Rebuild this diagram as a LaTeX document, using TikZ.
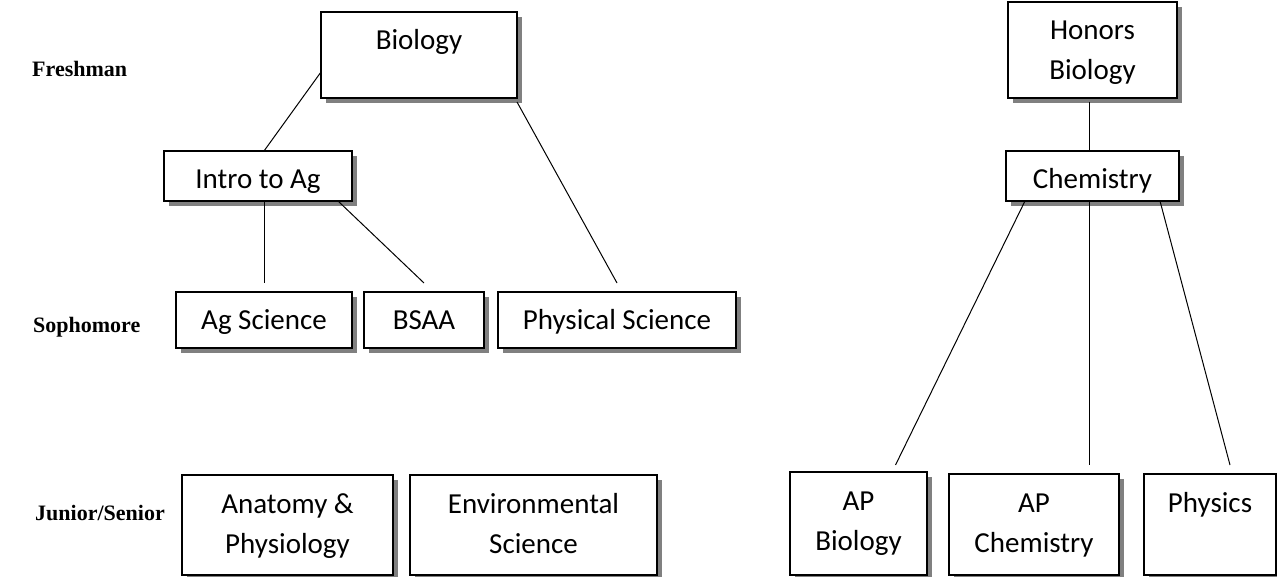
\documentclass[tikz,border=0pt]{standalone}
\usepackage{fontspec}
\setmainfont{Carlito}
\newfontfamily\labelfont{Liberation Serif}
\usetikzlibrary{shadows,calc}
\newcommand\cbox[3]{\parbox[t][#2pt][t]{#1pt}{\centering\rule{0pt}{38pt}#3}}
\tikzset{
  course/.style={draw=black, line width=1.6pt, fill=white, inner sep=0pt, outer sep=0pt,
    anchor=north west, font=\fontsize{29}{40}\selectfont,
    drop shadow={shadow xshift=5pt, shadow yshift=-5pt, fill=black!50, opacity=1}},
  yearlabel/.style={anchor=base west, inner sep=0pt, font=\labelfont\bfseries\fontsize{22}{26}\selectfont},
  link/.style={draw=black, line width=1pt}
}
\begin{document}
\begin{tikzpicture}[x=1pt,y=-1pt]
\useasboundingbox[fill=white] (0,0) rectangle (1277,577);
% year labels
\node[yearlabel] (fresh) at (32,77) {Freshman};
\node[yearlabel] (soph) at (33,333) {Sophomore};
\node[yearlabel] (junior) at (35,520) {Junior/Senior};
% left tree
\node[course] (bio) at (321,12) {\cbox{196}{86}{Biology}};
\node[course] (intro) at (164,151) {\cbox{188}{50}{Intro to Ag}};
\node[course] (agsci) at (176,292) {\cbox{176}{56}{Ag Science}};
\node[course] (bsaa) at (364,292) {\cbox{120}{56}{BSAA}};
\node[course] (phys) at (498,292) {\cbox{238}{56}{Physical Science}};
\node[course] (anat) at (182,475) {\cbox{211}{100}{Anatomy \&\\Physiology}};
\node[course] (env) at (410,475) {\cbox{247}{100}{Environmental\\Science}};
% right tree
\node[course] (hbio) at (1008,2) {\cbox{169}{96}{Honors\\Biology}};
\node[course] (chem) at (1006,151) {\cbox{173}{50}{Chemistry}};
\node[course] (apbio) at (790,472) {\cbox{137}{103}{AP\\Biology}};
\node[course] (apchem) at (949,474) {\cbox{170}{101}{AP\\Chemistry}};
\node[course] (physics) at (1144,474) {\cbox{132}{101}{Physics}};
% connectors
\draw[link] ([yshift=-17pt]bio.west) -- ([xshift=6pt]intro.north);
\draw[link] (agsci.north |- intro.south) -- ([yshift=9pt]agsci.north);
\draw[link] ([xshift=-14pt]intro.south east) -- ([yshift=9pt]bsaa.north);
\draw[link] ([yshift=-4pt]bio.south east) -- ([yshift=9pt]phys.north);
\draw[link] ([xshift=-3pt,yshift=-4pt]hbio.south) -- ([xshift=-3pt]chem.north);
\draw[link] ([xshift=19pt]chem.south west) -- ([xshift=37pt,yshift=7pt]apbio.north);
\draw[link] ([xshift=-30pt]chem.south -| apchem.north east) -- ([xshift=-30pt,yshift=9pt]apchem.north east);
\draw[link] ([xshift=-19pt]chem.south east) -- ([xshift=20pt,yshift=9pt]physics.north);
\end{tikzpicture}
\end{document}
